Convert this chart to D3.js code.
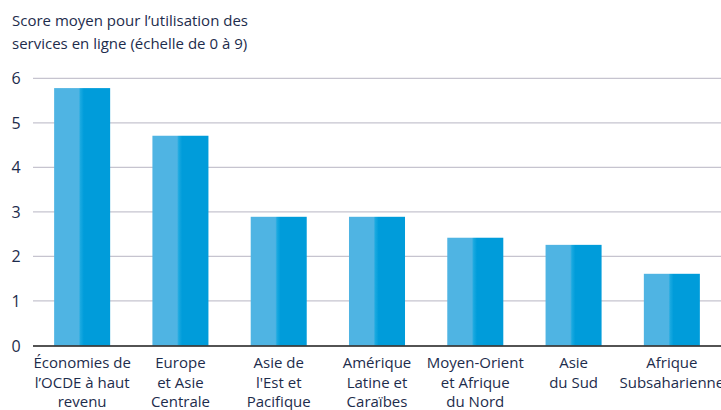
<!DOCTYPE html>
<html><head><meta charset="utf-8">
<script src="https://cdn.jsdelivr.net/npm/d3@7"></script>
<style>body{margin:0;background:#fff}svg{display:block}text{font-family:"Open Sans","Noto Sans",sans-serif;fill:#1d2c4c}</style>
</head><body>
<svg id="c" width="721" height="410"></svg>
<script>
const categories = [
  ["Économies de","l’OCDE à haut","revenu"],
  ["Europe","et Asie","Centrale"],
  ["Asie de","l'Est et","Pacifique"],
  ["Amérique","Latine et","Caraïbes"],
  ["Moyen-Orient","et Afrique","du Nord"],
  ["Asie","du Sud"],
  ["Afrique","Subsaharienne"]
];
const values = [5.78, 4.71, 2.89, 2.89, 2.42, 2.26, 1.61];
const yTicks = [0,1,2,3,4,5,6];
const titleLines = ["Score moyen pour l’utilisation des","services en ligne (échelle de 0 à 9)"];

(function(){
const svg = d3.select("#c");
const mL = 33, mR = 721, mT = 78.3, mB = 345.5;
const x = d3.scaleBand().domain(d3.range(categories.length)).range([mL, mR]).paddingInner(0.43).paddingOuter(0.215);
const y = d3.scaleLinear().domain([0,6]).range([mB, mT]);

const defs = svg.append("defs");
const g = defs.append("linearGradient").attr("id","bg").attr("x1","0").attr("x2","1").attr("y1","0").attr("y2","0");
[[0,"#4fb4e3"],[0.44,"#4fb4e3"],[0.47,"#1aa9e0"],[0.53,"#009cda"],[1,"#009cda"]].forEach(s=>g.append("stop").attr("offset",s[0]).attr("stop-color",s[1]));

svg.append("g").selectAll("text").data(titleLines).join("text")
  .attr("x",12).attr("y",(d,i)=>26+i*23).attr("font-size",15).text(d=>d);

svg.append("g").selectAll("line").data(yTicks.filter(d=>d>0)).join("line")
  .attr("x1",mL).attr("x2",mR).attr("y1",d=>y(d)).attr("y2",d=>y(d))
  .attr("stroke","#c6c4cf").attr("stroke-width",1.2);

svg.append("g").selectAll("text").data(yTicks).join("text")
  .attr("x",16).attr("y",d=>y(d)+6).attr("text-anchor","middle").attr("font-size",16).text(d=>d);

svg.append("g").selectAll("rect").data(values).join("rect")
  .attr("x",(d,i)=>x(i)).attr("width",x.bandwidth())
  .attr("y",d=>y(d)).attr("height",d=>y(0)-y(d)).attr("fill","url(#bg)");

svg.append("line").attr("x1",mL).attr("x2",mR).attr("y1",y(0)+0.5).attr("y2",y(0)+0.5).attr("stroke","#1a1a1a").attr("stroke-width",1.5);

const xl = svg.append("g").selectAll("text").data(categories).join("text")
  .attr("text-anchor","middle").attr("font-size",15)
  .attr("transform",(d,i)=>`translate(${x(i)+x.bandwidth()/2},0)`);
xl.selectAll("tspan").data(d=>d).join("tspan").attr("x",0).attr("y",(d,i)=>368+i*19.5).text(d=>d);
})();
</script>
</body></html>
